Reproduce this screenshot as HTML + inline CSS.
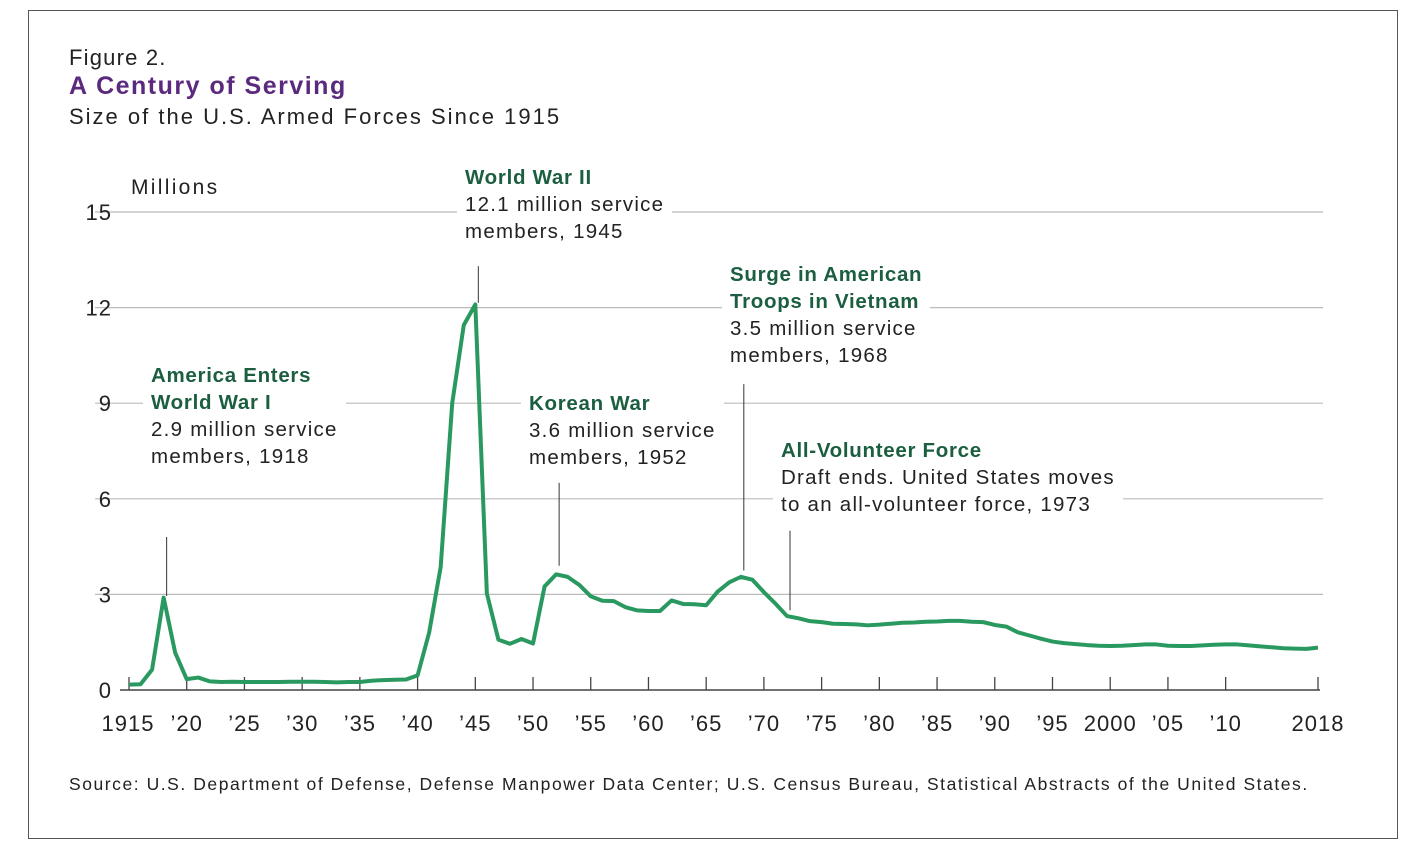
<!DOCTYPE html>
<html><head><meta charset="utf-8"><style>
body{margin:0;background:#fff;width:1421px;height:851px;overflow:hidden;font-family:"Liberation Sans",sans-serif;}
.frame{position:absolute;left:28px;top:10px;width:1370px;height:829px;border:1.5px solid #555;box-sizing:border-box;}
.t{position:absolute;color:#222;font-size:21px;line-height:27px;white-space:nowrap;}
.ann{position:absolute;background:#fff;font-size:20.5px;line-height:27px;color:#222;padding:0 8px;white-space:nowrap;letter-spacing:1.25px;}
.ann b{color:#1b5e40;letter-spacing:0.7px;}
</style></head><body>
<div class="frame"></div>
<div class="t" style="left:69px;top:44px;font-size:22px;letter-spacing:1.2px">Figure 2.</div>
<div class="t" style="left:69px;top:73px;font-size:25px;font-weight:bold;color:#5b2a7e;letter-spacing:1.5px">A Century of Serving</div>
<div class="t" style="left:69px;top:103px;font-size:22px;letter-spacing:2px">Size of the U.S. Armed Forces Since 1915</div>
<svg id="chart" width="1421" height="851" style="position:absolute;left:0;top:0"></svg>
<div class="t" style="left:131px;top:174px;font-size:21px;letter-spacing:2.3px">Millions</div>
<div class="ann" style="left:457px;top:164px"><b>World War II</b><br>12.1 million service<br>members, 1945</div>
<div class="ann" style="left:722px;top:261px"><b>Surge in American<br>Troops in Vietnam</b><br>3.5 million service<br>members, 1968</div>
<div class="ann" style="left:143px;top:362px"><b>America Enters<br>World War I</b><br>2.9 million service<br>members, 1918</div>
<div class="ann" style="left:521px;top:390px"><b>Korean War</b><br>3.6 million service<br>members, 1952</div>
<div class="ann" style="left:773px;top:437px"><b>All-Volunteer Force</b><br>Draft ends. United States moves<br>to an all-volunteer force, 1973</div>
<div class="t" style="left:69px;top:771px;font-size:17.5px;letter-spacing:1.55px">Source: U.S. Department of Defense, Defense Manpower Data Center; U.S. Census Bureau, Statistical Abstracts of the United States.</div>
<script>
const years=[];for(let y=1915;y<=2018;y++)years.push(y);
const values=[0.17,0.18,0.64,2.9,1.17,0.34,0.39,0.27,0.25,0.26,0.25,0.25,0.25,0.25,0.26,0.26,0.26,0.25,0.24,0.25,0.25,0.29,0.31,0.32,0.33,0.46,1.8,3.86,9.0,11.45,12.1,3.03,1.58,1.45,1.6,1.46,3.25,3.63,3.55,3.3,2.94,2.8,2.79,2.6,2.5,2.48,2.48,2.81,2.7,2.69,2.66,3.09,3.38,3.55,3.46,3.07,2.71,2.32,2.25,2.16,2.13,2.08,2.07,2.06,2.03,2.05,2.08,2.11,2.12,2.14,2.15,2.17,2.17,2.14,2.13,2.04,1.99,1.81,1.71,1.61,1.52,1.47,1.44,1.41,1.39,1.38,1.39,1.41,1.43,1.43,1.39,1.38,1.38,1.4,1.42,1.43,1.43,1.4,1.37,1.34,1.31,1.3,1.29,1.33];
const yTicks=[0,3,6,9,12,15];
const xTickYears=[1915,1920,1925,1930,1935,1940,1945,1950,1955,1960,1965,1970,1975,1980,1985,1990,1995,2000,2005,2010,2018];
const xTickLabels=["1915","’20","’25","’30","’35","’40","’45","’50","’55","’60","’65","’70","’75","’80","’85","’90","’95","2000","’05","’10","2018"];
const leaders=[[1918,4.8,2.95],[1945,13.3,12.15],[1952,6.5,3.9],[1968,9.6,3.75],[1972,5.0,2.5]];
const x=y=>129+(y-1915)*(1318-129)/103;
const yS=v=>690-v*(690-212)/15;
const svg=document.getElementById('chart');
const NS='http://www.w3.org/2000/svg';
function mk(t,a){const e=document.createElementNS(NS,t);for(const k in a)e.setAttribute(k,a[k]);svg.appendChild(e);return e;}
yTicks.forEach(v=>{
  if(v>0){const g=mk('line',{x1:95,x2:1323,y1:yS(v),y2:yS(v),stroke:'#bbb','stroke-width':1.2});
  
  }
  const t=mk('text',{x:112,y:yS(v)+8,'text-anchor':'end','font-size':22,fill:'#222','font-family':'Liberation Sans, sans-serif','letter-spacing':1});
  t.textContent=v;
  
  
});
const ax=mk('line',{x1:120,x2:1320,y1:690,y2:690,stroke:'#444','stroke-width':1.5});


xTickYears.forEach((yr,i)=>{
  const tk=mk('line',{x1:x(yr),x2:x(yr),y1:677,y2:690,stroke:'#444','stroke-width':1.3});
  
  
  const t=mk('text',{x:x(yr)+(i==0?-1:0),y:731,'text-anchor':'middle','font-size':22,fill:'#222','font-family':'Liberation Sans, sans-serif','letter-spacing':1});
  t.textContent=xTickLabels[i];
  
  
});
leaders.forEach(l=>{
  const ln=mk('line',{x1:x(l[0])+3,x2:x(l[0])+3,y1:yS(l[1]),y2:yS(l[2]),stroke:'#333','stroke-width':1});
  
  
});
const p=mk('polyline',{points:years.map((yr,i)=>x(yr)+','+yS(values[i])).join(' '),fill:'none',stroke:'#2a9960','stroke-width':4,'stroke-linejoin':'round'});


</script>
</body></html>
